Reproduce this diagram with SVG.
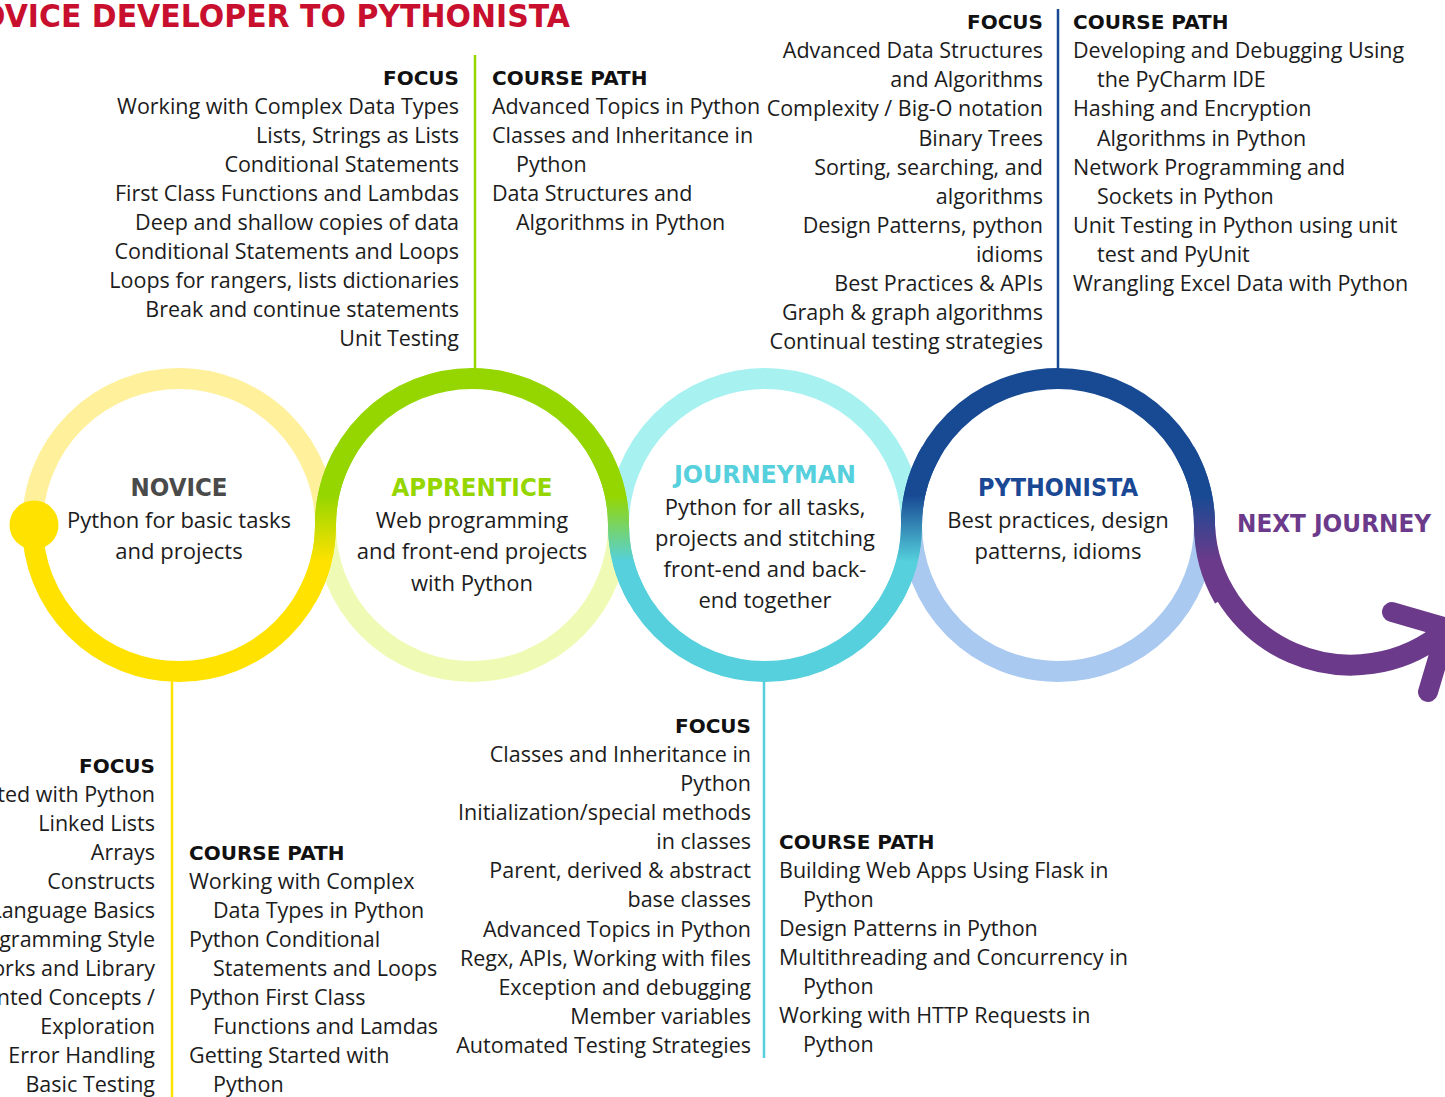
<svg xmlns="http://www.w3.org/2000/svg" width="1445" height="1097" viewBox="0 0 1445 1097">
<defs>
<style>
.b{font-family:"Open Sans","Liberation Sans",sans-serif;font-size:21.5px;fill:#1c1c1c}
.r{text-anchor:end}
.h{font-family:"DejaVu Sans","Liberation Sans",sans-serif;font-weight:bold;font-size:20px;fill:#111}
.c{font-family:"Open Sans","Liberation Sans",sans-serif;font-size:22px;fill:#1c1c1c;text-anchor:middle}
.t{font-family:"DejaVu Sans","Liberation Sans",sans-serif;font-weight:bold;font-size:24px;text-anchor:middle}
.ring{fill:none;stroke-width:21}
.ln{stroke-width:2.5}
</style>
<linearGradient id="g1" x1="0" y1="0" x2="0" y2="1"><stop offset="0.3" stop-color="#95D600"/><stop offset="0.75" stop-color="#FFE200"/></linearGradient>
<linearGradient id="g2" x1="0" y1="0" x2="0" y2="1"><stop offset="0.3" stop-color="#95D600"/><stop offset="0.75" stop-color="#55D0DC"/></linearGradient>
<linearGradient id="g3" x1="0" y1="0" x2="0" y2="1"><stop offset="0.3" stop-color="#184A94"/><stop offset="0.75" stop-color="#55D0DC"/></linearGradient>
<linearGradient id="g4" x1="0" y1="0" x2="0" y2="1"><stop offset="0.3" stop-color="#184A94"/><stop offset="0.75" stop-color="#6C3A8A"/></linearGradient>
</defs>
<rect width="1445" height="1097" fill="#fff"/>

<text x="-20" y="27" textLength="590" lengthAdjust="spacingAndGlyphs" style="font-family:'DejaVu Sans','Liberation Sans',sans-serif;font-weight:bold;font-size:32px;fill:#C8102E">OVICE DEVELOPER TO PYTHONISTA</text>

<g id="connectors">
<line class="ln" x1="475" y1="55" x2="475" y2="370" stroke="#95D600"/>
<line class="ln" x1="1058" y1="9" x2="1058" y2="370" stroke="#184A94"/>
<line class="ln" x1="172" y1="680" x2="172" y2="1097" stroke="#FFE200"/>
<line class="ln" x1="764" y1="680" x2="764" y2="1058" stroke="#55D0DC"/>
</g>

<g id="rings-light">
<path class="ring" stroke="#FFF09B" d="M32.5 525A146.5 146.5 0 0 1 325.5 525"/>
<path class="ring" stroke="#EFFBB4" d="M325.5 525A146.5 146.5 0 0 0 618.5 525"/>
<path class="ring" stroke="#A7F1F1" d="M618.5 525A146.5 146.5 0 0 1 911.5 525"/>
<path class="ring" stroke="#A9C9F0" d="M911.5 525A146.5 146.5 0 0 0 1204.5 525"/>
</g>

<g id="path-dark">
<path class="ring" stroke="#FFE200" d="M32.5 525A146.5 146.5 0 0 0 325.5 525"/>
<path class="ring" stroke="#95D600" d="M325.5 525A146.5 146.5 0 0 1 618.5 525"/>
<path class="ring" stroke="#55D0DC" d="M618.5 525A146.5 146.5 0 0 0 911.5 525"/>
<path class="ring" stroke="#184A94" d="M911.5 525A146.5 146.5 0 0 1 1204.5 525"/>
<path class="ring" stroke="#6C3A8A" d="M1204.5 525A146.5 146.5 0 0 0 1446 630"/>
<path class="ring" stroke="url(#g1)" d="M305.9 598.25A146.5 146.5 0 0 0 325.5 525A146.5 146.5 0 0 1 345.1 451.75"/>
<path class="ring" stroke="url(#g2)" d="M598.9 451.75A146.5 146.5 0 0 1 618.5 525A146.5 146.5 0 0 0 638.1 598.25"/>
<path class="ring" stroke="url(#g3)" d="M891.9 598.25A146.5 146.5 0 0 0 911.5 525A146.5 146.5 0 0 1 931.1 451.75"/>
<path class="ring" stroke="url(#g4)" d="M1184.9 451.75A146.5 146.5 0 0 1 1204.5 525A146.5 146.5 0 0 0 1224.1 598.25"/>
<circle cx="34" cy="525" r="24.5" fill="#FFE200"/>
</g>

<g id="novice">
<text class="t" x="179" y="496" textLength="97" lengthAdjust="spacingAndGlyphs" fill="#4A4A4A">NOVICE</text>
<text class="c" x="179" y="528">Python for basic tasks</text>
<text class="c" x="179" y="559">and projects</text>
</g>
<g id="apprentice">
<text class="t" x="472" y="496" textLength="161" lengthAdjust="spacingAndGlyphs" fill="#95D600">APPRENTICE</text>
<text class="c" x="472" y="528">Web programming</text>
<text class="c" x="472" y="559">and front-end projects</text>
<text class="c" x="472" y="591">with Python</text>
</g>
<g id="journeyman">
<text class="t" x="765" y="483" textLength="182" lengthAdjust="spacingAndGlyphs" fill="#55D0DC">JOURNEYMAN</text>
<text class="c" x="765" y="515">Python for all tasks,</text>
<text class="c" x="765" y="546">projects and stitching</text>
<text class="c" x="765" y="577">front-end and back-</text>
<text class="c" x="765" y="608">end together</text>
</g>
<g id="pythonista">
<text class="t" x="1058" y="496" textLength="160" lengthAdjust="spacingAndGlyphs" fill="#1A4894">PYTHONISTA</text>
<text class="c" x="1058" y="528">Best practices, design</text>
<text class="c" x="1058" y="559">patterns, idioms</text>
</g>
<g id="next-journey">
<path d="M1392 612L1447 628L1428 692" fill="none" stroke="#6C3A8A" stroke-width="20" stroke-linecap="round" stroke-linejoin="round"/>
<text class="t" x="1334" y="532" textLength="194" lengthAdjust="spacingAndGlyphs" fill="#6C3A8A">NEXT JOURNEY</text>
</g>

<g id="apprentice-focus">
<text class="h r" x="459" y="85">FOCUS</text>
<text class="b r" x="459" y="114">Working with Complex Data Types</text>
<text class="b r" x="459" y="143">Lists, Strings as Lists</text>
<text class="b r" x="459" y="172">Conditional Statements</text>
<text class="b r" x="459" y="201">First Class Functions and Lambdas</text>
<text class="b r" x="459" y="230">Deep and shallow copies of data</text>
<text class="b r" x="459" y="259">Conditional Statements and Loops</text>
<text class="b r" x="459" y="288">Loops for rangers, lists dictionaries</text>
<text class="b r" x="459" y="317">Break and continue statements</text>
<text class="b r" x="459" y="346">Unit Testing</text>
</g>
<g id="apprentice-course">
<text class="h" x="492" y="85">COURSE PATH</text>
<text class="b" x="492" y="114">Advanced Topics in Python</text>
<text class="b" x="492" y="143">Classes and Inheritance in</text>
<text class="b" x="516" y="172">Python</text>
<text class="b" x="492" y="201">Data Structures and</text>
<text class="b" x="516" y="230">Algorithms in Python</text>
</g>

<g id="pythonista-focus">
<text class="h r" x="1043" y="29">FOCUS</text>
<text class="b r" x="1043" y="58">Advanced Data Structures</text>
<text class="b r" x="1043" y="87">and Algorithms</text>
<text class="b r" x="1043" y="116">Complexity / Big-O notation</text>
<text class="b r" x="1043" y="146">Binary Trees</text>
<text class="b r" x="1043" y="175">Sorting, searching, and</text>
<text class="b r" x="1043" y="204">algorithms</text>
<text class="b r" x="1043" y="233">Design Patterns, python</text>
<text class="b r" x="1043" y="262">idioms</text>
<text class="b r" x="1043" y="291">Best Practices &amp; APIs</text>
<text class="b r" x="1043" y="320">Graph &amp; graph algorithms</text>
<text class="b r" x="1043" y="349">Continual testing strategies</text>
</g>
<g id="pythonista-course">
<text class="h" x="1073" y="29">COURSE PATH</text>
<text class="b" x="1073" y="58">Developing and Debugging Using</text>
<text class="b" x="1097" y="87">the PyCharm IDE</text>
<text class="b" x="1073" y="116">Hashing and Encryption</text>
<text class="b" x="1097" y="146">Algorithms in Python</text>
<text class="b" x="1073" y="175">Network Programming and</text>
<text class="b" x="1097" y="204">Sockets in Python</text>
<text class="b" x="1073" y="233">Unit Testing in Python using unit</text>
<text class="b" x="1097" y="262">test and PyUnit</text>
<text class="b" x="1073" y="291">Wrangling Excel Data with Python</text>
</g>

<g id="novice-focus">
<text class="h r" x="155" y="773">FOCUS</text>
<text class="b r" x="155" y="802">ted with Python</text>
<text class="b r" x="155" y="831">Linked Lists</text>
<text class="b r" x="155" y="860">Arrays</text>
<text class="b r" x="155" y="889">Constructs</text>
<text class="b r" x="155" y="918">Language Basics</text>
<text class="b r" x="155" y="947">gramming Style</text>
<text class="b r" x="155" y="976">orks and Library</text>
<text class="b r" x="155" y="1005">nted Concepts /</text>
<text class="b r" x="155" y="1034">Exploration</text>
<text class="b r" x="155" y="1063">Error Handling</text>
<text class="b r" x="155" y="1092">Basic Testing</text>
</g>
<g id="novice-course">
<text class="h" x="189" y="860">COURSE PATH</text>
<text class="b" x="189" y="889">Working with Complex</text>
<text class="b" x="213" y="918">Data Types in Python</text>
<text class="b" x="189" y="947">Python Conditional</text>
<text class="b" x="213" y="976">Statements and Loops</text>
<text class="b" x="189" y="1005">Python First Class</text>
<text class="b" x="213" y="1034">Functions and Lamdas</text>
<text class="b" x="189" y="1063">Getting Started with</text>
<text class="b" x="213" y="1092">Python</text>
</g>

<g id="journeyman-focus">
<text class="h r" x="751" y="733">FOCUS</text>
<text class="b r" x="751" y="762">Classes and Inheritance in</text>
<text class="b r" x="751" y="791">Python</text>
<text class="b r" x="751" y="820">Initialization/special methods</text>
<text class="b r" x="751" y="849">in classes</text>
<text class="b r" x="751" y="878">Parent, derived &amp; abstract</text>
<text class="b r" x="751" y="907">base classes</text>
<text class="b r" x="751" y="937">Advanced Topics in Python</text>
<text class="b r" x="751" y="966">Regx, APIs, Working with files</text>
<text class="b r" x="751" y="995">Exception and debugging</text>
<text class="b r" x="751" y="1024">Member variables</text>
<text class="b r" x="751" y="1053">Automated Testing Strategies</text>
</g>
<g id="journeyman-course">
<text class="h" x="779" y="849">COURSE PATH</text>
<text class="b" x="779" y="878">Building Web Apps Using Flask in</text>
<text class="b" x="803" y="907">Python</text>
<text class="b" x="779" y="936">Design Patterns in Python</text>
<text class="b" x="779" y="965">Multithreading and Concurrency in</text>
<text class="b" x="803" y="994">Python</text>
<text class="b" x="779" y="1023">Working with HTTP Requests in</text>
<text class="b" x="803" y="1052">Python</text>
</g>
</svg>
